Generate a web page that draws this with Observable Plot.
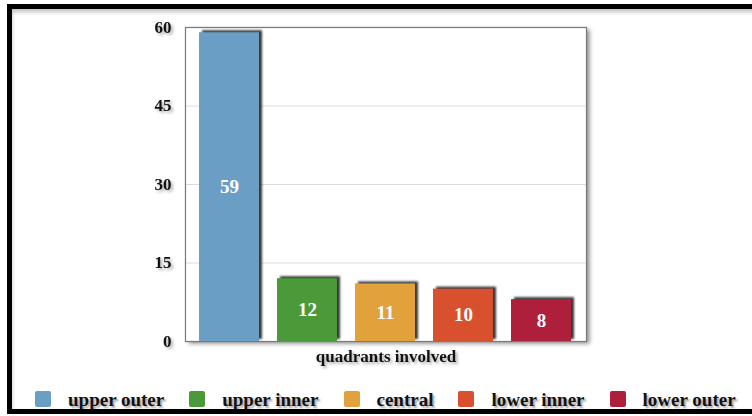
<!DOCTYPE html>
<html>
<head>
<meta charset="utf-8">
<script src="https://cdn.jsdelivr.net/npm/d3@7"></script>
<script src="https://cdn.jsdelivr.net/npm/@observablehq/plot@0.6"></script>
<style>
  html, body { margin: 0; padding: 0; background: #fff; }
  body { width: 752px; height: 416px; overflow: hidden; position: relative; }
  #chart { position: absolute; left: 0; top: 0; }
  #border {
    position: absolute; left: 7px; top: 4px; width: 800px; height: 410px;
    box-sizing: border-box; border: 5px solid #000; border-right: none;
    box-shadow: inset 0 3px 4px rgba(0,0,0,0.25);
    pointer-events: none;
  }
  #legend {
    position: absolute; left: 35px; top: 391px;
    display: flex; align-items: center; gap: 25px;
    font-family: "Liberation Serif", "Times New Roman", serif;
    font-weight: bold; font-size: 19px; color: #111;
  }
  #legend .item { display: flex; align-items: center; }
  #legend .sw {
    width: 16px; height: 16px; margin-right: 17px; border-radius: 2px;
    filter: blur(0.4px);
  }
  #legend .lab { text-shadow: 2px 2px 2px rgba(0,0,0,0.35); line-height: 16px; position: relative; top: 1px; }
</style>
</head>
<body>
<div id="chart"></div>
<div id="legend"></div>
<div id="border"></div>
<script>
// Quadrants of the breast involved, with case counts
const categories = ["upper outer", "upper inner", "central", "lower inner", "lower outer"];
const counts = [59, 12, 11, 10, 8];
const colors = ["#6b9ec5", "#4b9a39", "#e1a13b", "#d8502e", "#ae1f3c"];
const yTicks = [0, 15, 30, 45, 60];
const axisTitle = "quadrants involved";

const data = categories.map((quadrant, i) => ({quadrant, count: counts[i]}));

const chart = Plot.plot({
  width: 752,
  height: 375,
  marginLeft: 185,
  marginRight: 166,
  marginTop: 27,
  marginBottom: 34,
  style: {
    fontFamily: "'Liberation Serif', 'Times New Roman', serif",
    fontWeight: "bold",
    background: "transparent",
    color: "#111"
  },
  x: {domain: categories, axis: null, paddingInner: 0.227, paddingOuter: 0.155},
  y: {domain: [0, 60]},
  color: {domain: categories, range: colors},
  marks: [
    Plot.frame({fill: "#fff"}),
    Plot.gridY(yTicks.filter(t => t > 0 && t < 60), {stroke: "#dcdcdc", strokeOpacity: 1}),
    Plot.frame({stroke: "#7a7a7a", strokeWidth: 1.2}),
    Plot.axisY(yTicks, {tickSize: 0, tickPadding: 14, label: null, fontSize: 17, fontWeight: "bold"}),
    Plot.barY(data, {x: "quadrant", y: "count", fill: "quadrant"}),
    Plot.text(data, {
      x: "quadrant", y: d => d.count / 2, text: d => String(d.count),
      fill: "white", fontSize: 19, fontWeight: "bold"
    }),
    Plot.text([axisTitle], {frameAnchor: "bottom", text: d => d, dy: 20, fontSize: 17, fontWeight: "bold"})
  ]
});
document.getElementById("chart").appendChild(chart);

// Soft shadows: bars cast a dark edge up and to the right; frame and labels a grey one
const svg = chart.tagName === "svg" ? chart : chart.querySelector("svg");
svg.querySelectorAll('[aria-label="frame"]').forEach((g, i) => {
  if (i === 0) g.style.filter = "drop-shadow(3px 2px 2px rgba(0,0,0,0.45))";
});
svg.querySelectorAll('[aria-label="bar"]').forEach(g => {
  g.style.filter = "drop-shadow(3px -2px 1.2px rgba(20,20,20,0.85))";
});
svg.querySelectorAll('[aria-label="y-axis tick label"]').forEach(g => {
  g.style.filter = "drop-shadow(2px 2px 1.5px rgba(0,0,0,0.35))";
});
svg.querySelectorAll('[aria-label="text"]').forEach((g, i) => {
  if (i === 1) g.style.filter = "drop-shadow(2px 2px 1.5px rgba(0,0,0,0.35))";
});

// Legend
const legend = d3.select("#legend");
categories.forEach((c, i) => {
  const item = legend.append("div").attr("class", "item");
  item.append("span").attr("class", "sw").style("background", colors[i]);
  item.append("span").attr("class", "lab").text(c);
});
</script>
</body>
</html>
